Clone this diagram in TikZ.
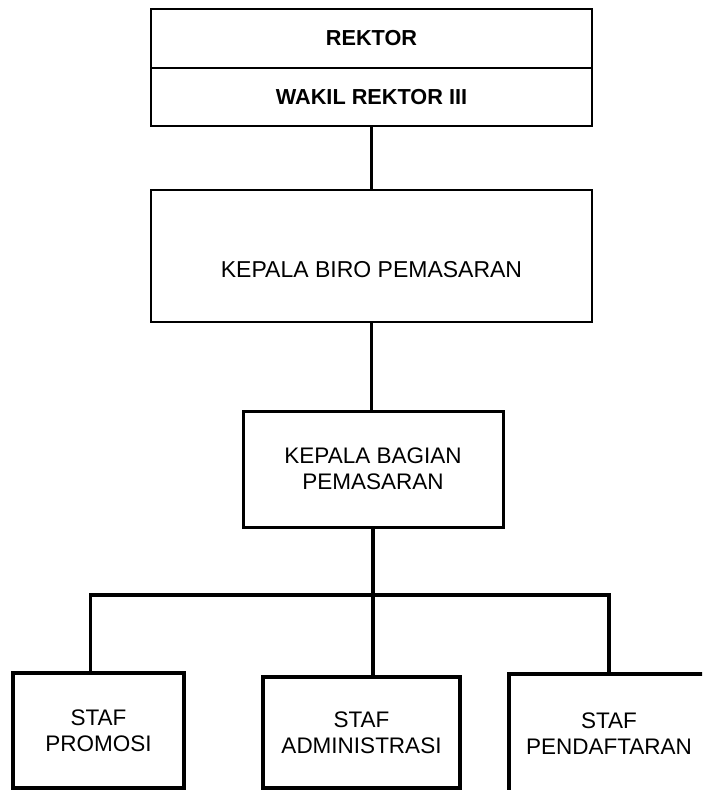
\documentclass[tikz,border=0pt]{standalone}
\usepackage{fontspec}
\setmainfont{Liberation Sans}
\usetikzlibrary{positioning}
\tikzset{
  kotak/.style={draw, rectangle, inner sep=0pt, outer sep=0pt, align=center,
    font=\fontsize{22.5}{26}\selectfont},
  garis/.style={line width=3.5pt}
}
\begin{document}
\begin{tikzpicture}[x=1pt,y=-1pt]
   \useasboundingbox (0,0) rectangle (702,790);
   \clip (0,0) rectangle (702,790);
   % pimpinan
   \node[kotak, line width=2pt, minimum width=441pt, minimum height=59pt, font=\fontsize{21.7}{26}\selectfont\bfseries] (rektor) at (371.5,38.5) {REKTOR};
   \node[kotak, line width=2pt, minimum width=441pt, minimum height=58pt, font=\fontsize{21.7}{26}\selectfont\bfseries, below=0pt of rektor] (wakil) {WAKIL REKTOR III};
   \node[kotak, line width=2.5pt, minimum width=441pt, minimum height=132pt, text height=42pt, text depth=0pt, font=\fontsize{23}{26}\selectfont] (kbiro) at (371.5,256) {KEPALA BIRO PEMASARAN};
   \node[kotak, line width=3pt, minimum width=260pt, minimum height=116pt] (kbag) at (373,469) {KEPALA BAGIAN\\PEMASARAN};
   % staf
   \node[kotak, line width=4pt, minimum width=171pt, minimum height=115pt] (promosi) at (98.5,730.5) {STAF\\PROMOSI};
   \node[kotak, line width=4pt, minimum width=197pt, minimum height=111pt] (admin) at (361.5,732.5) {STAF\\ADMINISTRASI};
   \node[kotak, line width=4pt, minimum width=200pt, minimum height=119pt] (daftar) at (609,733.5) {STAF\\PENDAFTARAN};
   % garis
   \draw[garis] (wakil.south) -- (kbiro.north);
   \draw[garis] (kbiro.south) -- (kbiro.south |- kbag.north);
   \draw[garis] (kbag.south) -- (kbag.south |- admin.north);
   \coordinate (cabang) at (373,595);
   \draw[garis] ([xshift=-8pt]promosi.north) |- (cabang) -| (daftar.north);
\end{tikzpicture}
\end{document}
